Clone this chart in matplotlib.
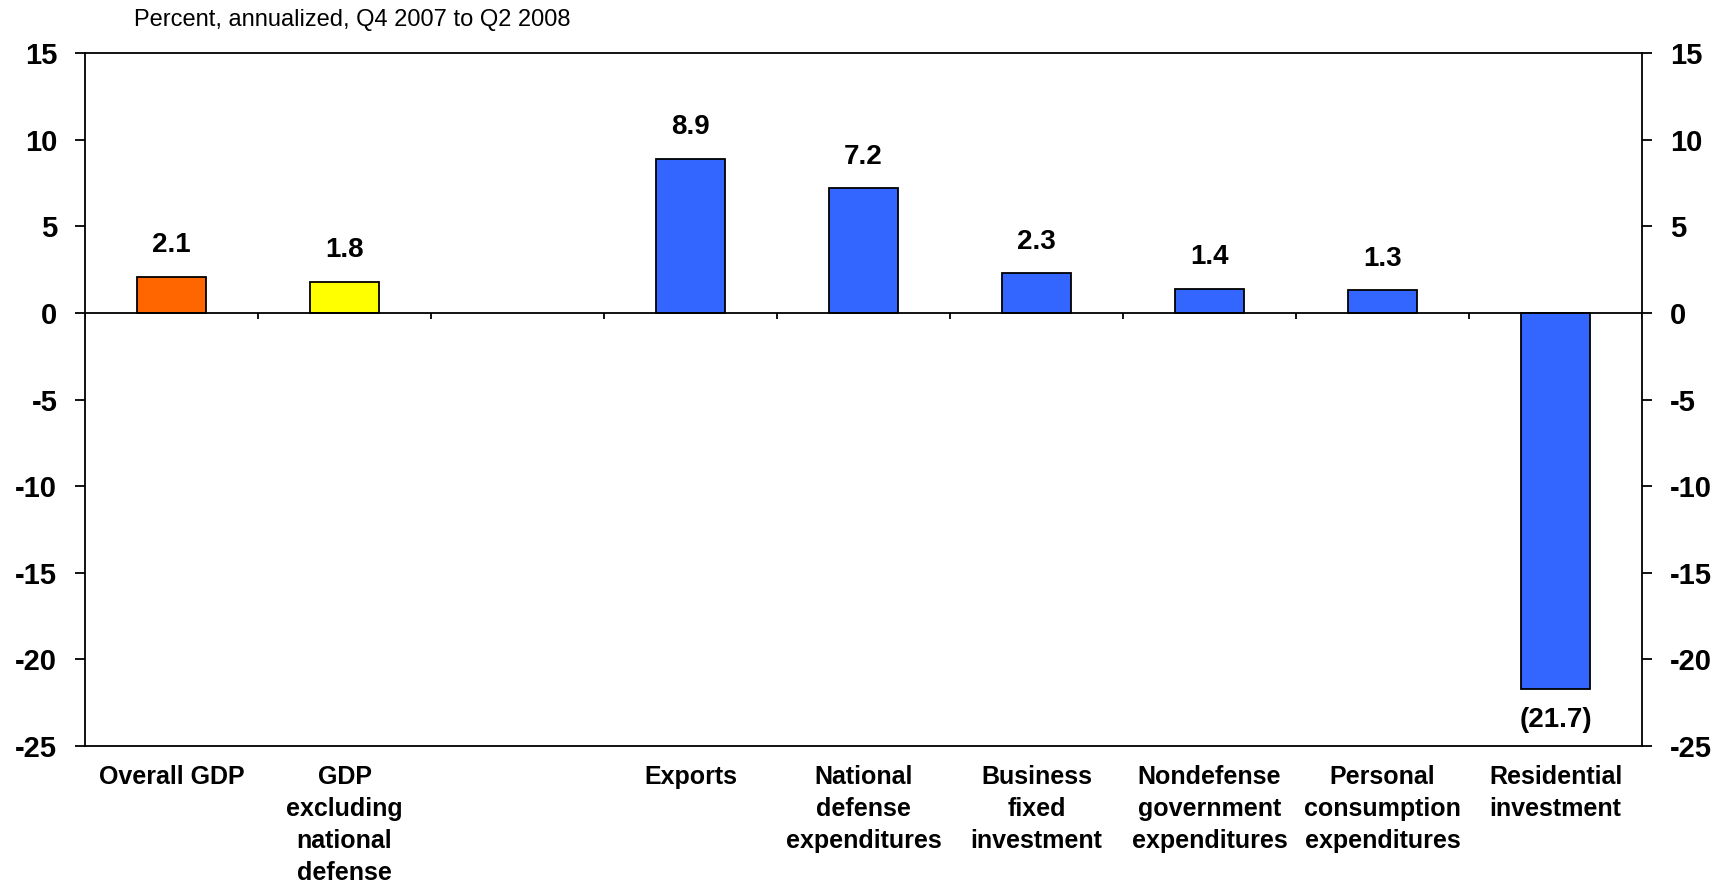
import numpy as np
import matplotlib.pyplot as plt

plt.rcParams['font.family'] = ['Liberation Sans', 'DejaVu Sans']

categories = ['Overall GDP', 'GDP\nexcluding\nnational\ndefense', '',
              'Exports', 'National\ndefense\nexpenditures', 'Business\nfixed\ninvestment',
              'Nondefense\ngovernment\nexpenditures', 'Personal\nconsumption\nexpenditures',
              'Residential\ninvestment']
values = [2.1, 1.8, np.nan, 8.9, 7.2, 2.3, 1.4, 1.3, -21.7]
colors = ['#FF6600', '#FFFF00', '#3366FF', '#3366FF', '#3366FF', '#3366FF',
          '#3366FF', '#3366FF', '#3366FF']
yticks = [15, 10, 5, 0, -5, -10, -15, -20, -25]

fig = plt.figure(figsize=(17.25, 8.84), dpi=100)
ax = fig.add_axes([0.0493, 0.1561, 0.9026, 0.7839])

x = np.arange(len(categories)) + 0.5
ax.bar(x, values, width=0.4, color=colors, edgecolor='black', linewidth=1.3, zorder=3)

# value labels, negatives in parentheses below the bar
for xi, v in zip(x, values):
    if np.isnan(v):
        continue
    txt = f"{v:.1f}" if v >= 0 else f"({abs(v):.1f})"
    off = 22.5 if v >= 0 else -22.5
    ax.annotate(txt, (xi, v), textcoords='offset points', xytext=(0, off),
                ha='center', va='center', fontsize=20, fontweight='bold')

ax.set_xlim(0, len(categories))
ax.set_ylim(-25, 15)
ax.set_yticks(yticks)
ax.set_yticklabels([str(t) for t in yticks], fontsize=21, fontweight='bold')
ax.tick_params(axis='y', direction='out', length=7, width=1.3, pad=13,
               left=True, right=True, labelleft=True, labelright=True)

# zero line with small category separators hanging below it
ax.axhline(0, color='black', linewidth=1.3, zorder=4)
bounds = np.arange(len(categories) + 1)
ax.vlines(bounds, -0.38, 0, color='black', linewidth=1.3, zorder=4)

ax.set_xticks(x)
ax.set_xticklabels(categories, fontsize=18, fontweight='bold', linespacing=1.42, va='top')
ax.tick_params(axis='x', length=0, pad=14)

for s in ax.spines.values():
    s.set_linewidth(1.3)

fig.text(134 / 1725, 1 - 20 / 884, 'Percent, annualized, Q4 2007 to Q2 2008',
         fontsize=17, ha='left', va='center')

fig.savefig('out.png', dpi=100)
